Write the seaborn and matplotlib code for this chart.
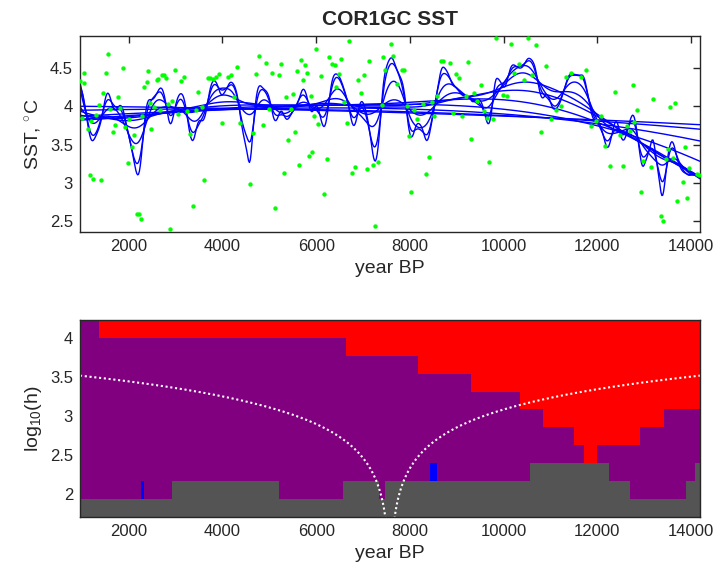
import numpy as np
import pandas as pd
import matplotlib
matplotlib.use("Agg")
import matplotlib.pyplot as plt
import seaborn as sns
from matplotlib.colors import ListedColormap

# ---------------- data ----------------
years = [965, 1035, 1056, 1568, 1872, 1519, 2413, 2383, 2334, 2596, 2633, 2703, 2746, 2797, 2995, 3116, 3186,
         1461, 1766, 1370, 1610, 1823, 993, 1199, 1297, 1127, 1710, 1668, 1923, 2015, 2121, 2072, 1979, 2292,
         2484, 2455, 2541, 2661, 2846, 2931, 3059, 1163, 1248, 1412, 2171, 2221, 2256, 2888,
         3485, 3683, 3740, 3797, 3862, 3925, 4117, 4181, 4300, 4790, 4933, 5259, 4720, 5061, 5203, 4245,
         3235, 3427, 3555, 5003, 5359, 5402, 3299, 3989, 4379, 4650, 4863, 5316, 3612, 4577, 3372, 5131,
         5998, 6707, 7595, 7645, 5672, 5757, 6275, 6332, 6396, 6537, 7133, 7425, 5587, 5806, 6104, 6481,
         6892, 7013, 7468, 5714, 6424, 5501, 6956, 5898, 6601, 5465, 5962, 7397, 6040, 6652, 5544, 5855,
         5919, 5629, 6226, 6829, 6765, 7078, 7206, 7325, 6162, 7261,
         9832, 7823, 7872, 8654, 8709, 8852, 9250, 8973, 9044, 7729, 9512, 9363, 9193, 8582, 8462, 8277,
         7930, 8092, 9434, 9583, 8910, 9108, 8518, 8156, 9646, 9774, 7972, 9306, 8398, 9697, 8341, 8028,
         10513, 10151, 10690, 10322, 10912, 10230, 10428, 10605, 11749, 11436, 11337, 11648, 9981, 10066,
         11223, 11110, 11010, 10805, 11968, 11870, 12068,
         12750, 12381, 13197, 13559, 13665, 12841, 12792, 12622, 12692, 12473, 12168, 13872, 13517, 13459,
         13623, 12260, 12551, 12984, 13154, 13964, 14119, 14176, 13821, 12935, 13921, 13708, 13353, 13410]
sst = [4.33, 4.30, 4.44, 4.69, 4.50, 4.44, 4.46, 4.32, 4.25, 4.34, 4.36, 4.41, 4.41, 4.37, 4.47, 4.33, 4.38,
       4.17, 4.12, 4.02, 3.97, 3.98, 3.85, 3.81, 3.89, 3.70, 3.76, 3.67, 3.73, 3.84, 3.63, 3.47, 3.26, 3.87,
       3.71, 4.04, 3.99, 3.96, 4.03, 4.07, 3.90, 3.11, 3.05, 3.04, 2.60, 2.60, 2.53, 2.40,
       4.19, 4.37, 4.37, 4.36, 4.39, 4.42, 4.38, 4.41, 4.51, 4.66, 4.57, 4.55, 4.43, 4.44, 4.41, 4.12,
       3.94, 3.95, 3.99, 3.97, 4.12, 3.56, 3.64, 3.79, 3.79, 3.65, 3.76, 3.13, 3.04, 2.99, 2.70, 2.67,
       4.75, 4.86, 4.82, 4.66, 4.61, 4.54, 4.65, 4.56, 4.54, 4.62, 4.59, 4.64, 4.46, 4.44, 4.40, 4.42,
       4.35, 4.41, 4.48, 4.35, 4.26, 4.16, 4.17, 4.13, 4.06, 3.97, 3.87, 4.02, 3.77, 3.79, 3.66, 3.35,
       3.40, 3.24, 3.31, 3.21, 3.13, 3.18, 3.24, 3.27, 2.85, 2.44,
       4.90, 4.47, 4.47, 4.60, 4.60, 4.57, 4.58, 4.42, 4.37, 4.29, 4.28, 4.18, 4.13, 4.13, 4.06, 4.03,
       4.00, 3.96, 4.07, 3.94, 3.91, 3.87, 3.87, 3.84, 3.85, 3.83, 3.61, 3.58, 3.34, 3.27, 3.12, 2.88,
       4.90, 4.81, 4.80, 4.55, 4.53, 4.44, 4.34, 4.41, 4.47, 4.44, 4.38, 4.39, 4.15, 4.14,
       4.01, 3.96, 3.84, 3.67, 3.81, 3.74, 3.87,
       4.28, 4.19, 4.10, 3.99, 4.04, 3.96, 3.80, 3.75, 3.68, 3.63, 3.48, 3.47, 3.45, 3.32,
       3.33, 3.22, 3.22, 3.29, 3.21, 3.19, 3.12, 3.10, 3.01, 2.88, 2.81, 2.76, 2.57, 2.51]

# bandwidths of the SiZer map rows (log10 h, bottom row to top row)
log_h = [1.815, 2.046, 2.276, 2.507, 2.737, 2.968, 3.198, 3.429, 3.659, 3.890, 4.120]
# bandwidths of the smooths drawn in the upper panel
curve_log_h = [1.93, 2.046, 2.276, 2.507, 2.737, 2.968, 3.198, 3.429, 3.659, 3.890, 4.120]

# SiZer map: for every row (bottom -> top) a list of (segment end year, class)
# classes: G = sparse data, P = not significant, R = significant decrease, B = significant increase
sizer_rows = [
    [(14190, "G")],
    [(2263, "P"), (2335, "B"), (2933, "P"), (5209, "G"), (6563, "P"), (7345, "G"), (7466, "P"),
     (12697, "G"), (13893, "P"), (14190, "G")],
    [(8413, "P"), (8577, "B"), (10562, "P"), (12242, "G"), (14093, "P"), (14190, "G")],
    [(11715, "P"), (11986, "R"), (14190, "P")],
    [(11488, "P"), (12897, "R"), (14190, "P")],
    [(10855, "P"), (13424, "R"), (14190, "P")],
    [(10356, "P"), (14190, "R")],
    [(9302, "P"), (14190, "R")],
    [(8178, "P"), (14190, "R")],
    [(6633, "P"), (14190, "R")],
    [(1381, "P"), (14190, "R")],
]

x_range = (960, 14190)
title = "COR1GC SST"
xticks = [2000, 4000, 6000, 8000, 10000, 12000, 14000]
top_yticks = [2.5, 3, 3.5, 4, 4.5]
bot_yticks = [2, 2.5, 3, 3.5, 4]

# ---------------- styling ----------------
sns.set_theme(style="white")
plt.rcParams["font.family"] = ["Liberation Sans", "DejaVu Sans"]
plt.rcParams["mathtext.fontset"] = "custom"
plt.rcParams["mathtext.rm"] = "Liberation Sans"
plt.rcParams["mathtext.it"] = "Liberation Sans"

fig = plt.figure(figsize=(7.2, 5.75), dpi=100)
ax1 = fig.add_axes([80 / 720, 1 - 232 / 575, 620 / 720, 196 / 575])
ax2 = fig.add_axes([80 / 720, 1 - 517 / 575, 620 / 720, 197 / 575])

x = np.asarray(years, float)
y = np.asarray(sst, float)

# ---------- family of local-linear Gaussian kernel smooths ----------
grid = np.linspace(x_range[0], x_range[1], 700)
rows = []
for lh in curve_log_h:
    h = 10 ** lh
    d = x[None, :] - grid[:, None]
    w = np.exp(-0.5 * (d / h) ** 2)
    s0 = w.sum(1); s1 = (w * d).sum(1); s2 = (w * d * d).sum(1)
    t0 = (w * y).sum(1); t1 = (w * d * y).sum(1)
    den = s0 * s2 - s1 ** 2
    m = (s2 * t0 - s1 * t1) / np.where(den > 1e-12, den, np.nan)
    rows.append(pd.DataFrame({"year": grid, "sst": m, "h": lh}))
smooth = pd.concat(rows, ignore_index=True)

sns.lineplot(data=smooth, x="year", y="sst", units="h", estimator=None, sort=False,
             color=(0, 0, 1), lw=1.0, ax=ax1, zorder=2)
pts = pd.DataFrame({"year": years, "sst": sst})
sns.scatterplot(data=pts, x="year", y="sst", color=(0, 1, 0), s=10, linewidth=0, ax=ax1, zorder=3)

ax1.set_xlim(*x_range)
ax1.set_ylim(2.36, 4.92)
ax1.set_xticks(xticks)
ax1.set_yticks(top_yticks)
ax1.set_yticklabels([f"{v:g}" for v in top_yticks])
ax1.set_title(title, fontsize=15, fontweight="bold", pad=8)
ax1.set_xlabel("year BP", fontsize=14)
ax1.set_ylabel(r"SST, $^{\circ}$C", fontsize=14)

# ---------- SiZer map ----------
codes = {"G": 0, "P": 1, "R": 2, "B": 3}
cmap = ListedColormap([(0.33, 0.33, 0.33), (0.5, 0, 0.5), (1, 0, 0), (0, 0, 1)])
xcols = np.linspace(x_range[0], x_range[1], 801)
xc = 0.5 * (xcols[:-1] + xcols[1:])
M = np.zeros((len(log_h), len(xc)))
for i, segs in enumerate(sizer_rows):
    start = x_range[0]
    for end, c in segs:
        M[i, (xc >= start) & (xc < end)] = codes[c]
        start = end
    M[i, xc >= start] = codes[segs[-1][1]]
step = log_h[1] - log_h[0]
yedges = np.concatenate([[log_h[0] - step / 2], np.asarray(log_h) + step / 2])
ax2.pcolormesh(xcols, yedges, M, cmap=cmap, vmin=-0.5, vmax=3.5, shading="flat")

# dotted guide: x = centre +/- 2h
xg = np.linspace(x_range[0], x_range[1], 2001)
centre = 0.5 * (x_range[0] + x_range[1])
with np.errstate(divide="ignore"):
    gy = np.log10(np.abs(xg - centre) / 2)
ax2.plot(xg, gy, color="white", ls=(0, (1, 1.3)), lw=1.5)

ax2.set_xlim(*x_range)
ax2.set_ylim(yedges[0], yedges[-1])
ax2.set_xticks(xticks)
ax2.set_yticks(bot_yticks)
ax2.set_yticklabels([f"{v:g}" for v in bot_yticks])
ax2.set_xlabel("year BP", fontsize=14)
ax2.set_ylabel(r"log$_{10}$(h)", fontsize=14)

for ax in (ax1, ax2):
    ax.tick_params(direction="in", top=True, right=True, length=5, width=1,
                   labelsize=12, color="#262626", labelcolor="#262626", pad=5)
    for s in ax.spines.values():
        s.set_color("#262626")
        s.set_linewidth(1.0)
    ax.xaxis.label.set_color("#262626")
    ax.yaxis.label.set_color("#262626")

fig.savefig("out.png", dpi=100)
